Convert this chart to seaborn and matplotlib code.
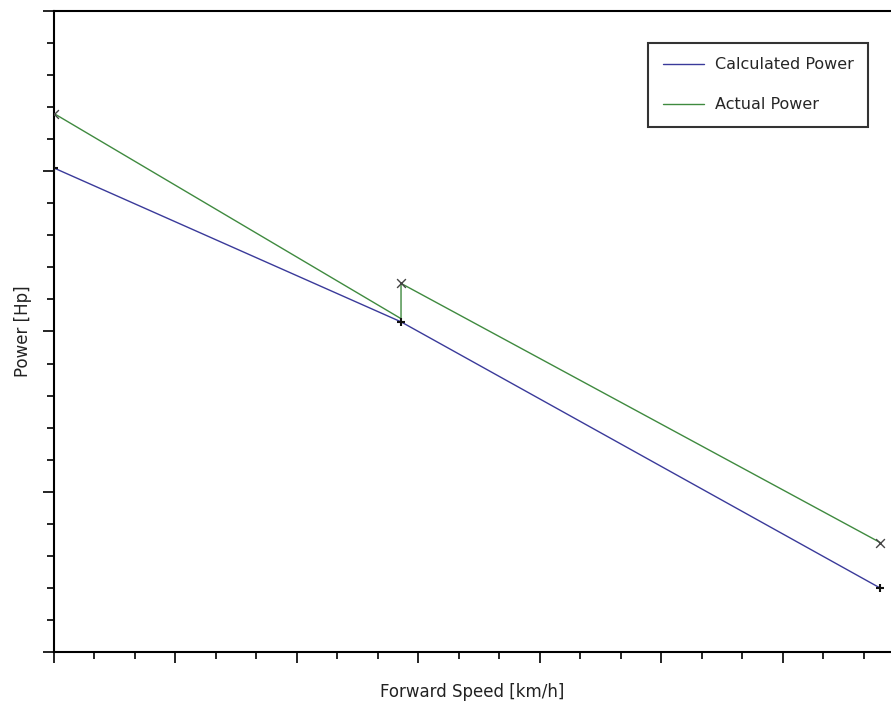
import matplotlib
matplotlib.use("Agg")
import matplotlib.pyplot as plt
from matplotlib.ticker import MultipleLocator, NullFormatter
import pandas as pd
import seaborn as sns

# readings (no tick labels were shown, units are tick steps)
calc_speed = [0.0, 8.57, 20.41]
calc_power = [15.1, 10.3, 1.99]

actual_speed = [0.0, 8.57, 8.57, 20.41]
actual_power = [16.8, 10.4, 11.5, 3.41]
actual_marked = [True, False, True, True]

sns.set_style("ticks")
plt.rcParams['font.family'] = ['DejaVu Sans']

df_calc = pd.DataFrame({'speed': calc_speed, 'power': calc_power})
df_act = pd.DataFrame({'speed': actual_speed, 'power': actual_power, 'marked': actual_marked})

fig = plt.figure(figsize=(8.91, 7.06), dpi=100)
ax = fig.add_axes([0.0606, 0.0765, 0.9394, 0.908])

blue = '#3a3a9a'
green = '#3f8a3f'

# estimator=None so the vertical step at the same speed is kept
sns.lineplot(data=df_calc, x='speed', y='power', sort=False, estimator=None,
             color=blue, lw=1.0, label='Calculated Power', ax=ax)
sns.lineplot(data=df_act, x='speed', y='power', sort=False, estimator=None,
             color=green, lw=1.0, label='Actual Power', ax=ax)

# markers
sns.scatterplot(data=df_calc, x='speed', y='power', marker='+', color='#111111',
                s=40, linewidth=1.5, ax=ax, legend=False, zorder=3)
sns.scatterplot(data=df_act[df_act['marked']], x='speed', y='power', marker='x',
                color='#444444', s=40, linewidth=1.0, ax=ax, legend=False, zorder=3)

ax.set_xlim(0, 20.67)
ax.set_ylim(0, 20)
ax.xaxis.set_major_locator(MultipleLocator(3))
ax.xaxis.set_minor_locator(MultipleLocator(1))
ax.yaxis.set_major_locator(MultipleLocator(5))
ax.yaxis.set_minor_locator(MultipleLocator(1))
ax.xaxis.set_major_formatter(NullFormatter())
ax.yaxis.set_major_formatter(NullFormatter())
ax.tick_params(which='major', direction='out', length=8, width=1.2, color='black')
ax.tick_params(which='minor', direction='out', length=5, width=1.2, color='black')

for side in ['left', 'bottom', 'top']:
    ax.spines[side].set_color('black')
    ax.spines[side].set_linewidth(1.5)
ax.spines['right'].set_visible(False)

ax.set_xlabel('Forward Speed [km/h]', fontsize=12, color='#222222', labelpad=11)
ax.set_ylabel('Power [Hp]', fontsize=12, color='#222222', labelpad=4)

leg = ax.legend(loc='upper right', bbox_to_anchor=(0.9725, 0.950), fontsize=11.5,
                frameon=True, fancybox=False, borderpad=0.9, labelspacing=1.55,
                handlelength=2.6, handletextpad=0.65, borderaxespad=0)
leg.get_frame().set_edgecolor('black')
leg.get_frame().set_linewidth(1.5)

plt.savefig('out.png', dpi=100)
